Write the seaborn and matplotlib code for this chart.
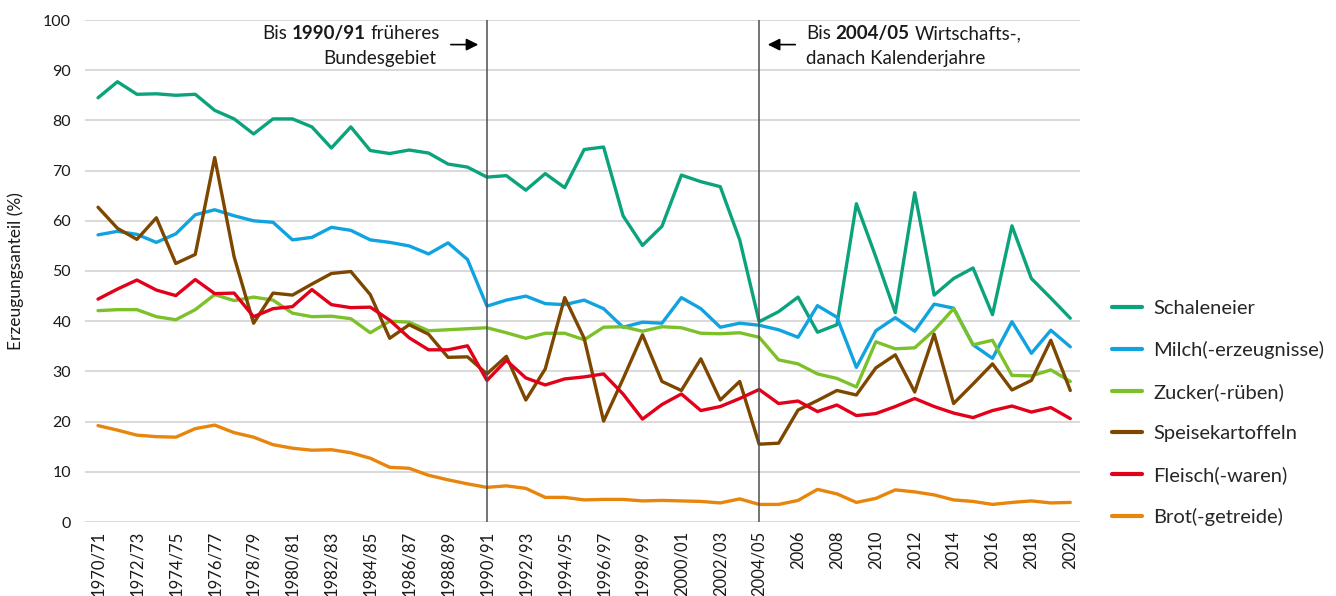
import numpy as np
import pandas as pd
import matplotlib
matplotlib.use('Agg')
import matplotlib.pyplot as plt
import seaborn as sns

# Perioden: Wirtschaftsjahre bis 2004/05, danach Kalenderjahre
periods = [f'{y}/{str(y + 1)[2:]}' for y in range(1970, 2005)] + [str(y) for y in range(2005, 2021)]

schaleneier = [84.5, 87.7, 85.2, 85.3, 85.0, 85.2, 82.0, 80.3, 77.3, 80.3,
               80.3, 78.7, 74.5, 78.7, 74.0, 73.4, 74.1, 73.5, 71.3, 70.7,
               68.7, 69.0, 66.1, 69.4, 66.6, 74.2, 74.7, 61.0, 55.1, 58.9,
               69.1, 67.8, 66.8, 56.2, 39.9, 41.9, 44.8, 37.8, 39.3, 63.4,
               52.8, 41.7, 65.6, 45.2, 48.5, 50.6, 41.3, 59.0, 48.5, 44.6, 40.6]
milch = [57.2, 57.9, 57.3, 55.7, 57.4, 61.2, 62.2, 61.0, 60.0, 59.7,
         56.2, 56.7, 58.7, 58.1, 56.2, 55.7, 55.0, 53.4, 55.6, 52.3,
         43.0, 44.2, 45.0, 43.5, 43.3, 44.2, 42.5, 38.8, 39.8, 39.6,
         44.7, 42.5, 38.8, 39.6, 39.2, 38.3, 36.8, 43.1, 40.8, 30.8,
         38.1, 40.7, 38.0, 43.4, 42.6, 35.3, 32.6, 39.9, 33.6, 38.2, 34.9]
zucker = [42.1, 42.3, 42.3, 40.9, 40.3, 42.3, 45.3, 44.1, 44.8, 44.2,
          41.6, 40.9, 41.0, 40.5, 37.7, 40.0, 39.8, 38.1, 38.3, 38.5,
          38.7, 37.7, 36.6, 37.6, 37.6, 36.3, 38.8, 38.9, 38.0, 38.9,
          38.7, 37.6, 37.5, 37.7, 36.8, 32.3, 31.5, 29.5, 28.6, 26.9,
          35.9, 34.5, 34.7, 38.2, 42.5, 35.3, 36.2, 29.2, 29.1, 30.3, 28.0]
kartoffeln = [62.7, 58.5, 56.3, 60.6, 51.5, 53.3, 72.6, 52.8, 39.6, 45.6,
              45.2, 47.4, 49.5, 49.9, 45.3, 36.6, 39.3, 37.4, 32.8, 32.9,
              29.5, 33.0, 24.3, 30.5, 44.7, 36.6, 20.1, 28.5, 37.3, 28.0,
              26.2, 32.5, 24.3, 28.0, 15.5, 15.7, 22.3, 24.2, 26.2, 25.3,
              30.7, 33.3, 25.9, 37.4, 23.6, 27.5, 31.5, 26.3, 28.2, 36.2, 26.2]
fleisch = [44.4, 46.4, 48.2, 46.2, 45.1, 48.3, 45.5, 45.6, 40.9, 42.5,
           42.9, 46.3, 43.3, 42.7, 42.8, 40.2, 36.7, 34.3, 34.3, 35.1,
           28.2, 32.2, 28.7, 27.3, 28.5, 28.9, 29.5, 25.5, 20.5, 23.4,
           25.5, 22.2, 23.0, 24.6, 26.4, 23.6, 24.1, 22.0, 23.3, 21.2,
           21.6, 23.0, 24.6, 23.0, 21.7, 20.8, 22.2, 23.1, 21.9, 22.8, 20.6]
brot = [19.2, 18.3, 17.3, 17.0, 16.9, 18.6, 19.3, 17.8, 16.9, 15.4,
        14.7, 14.3, 14.4, 13.8, 12.7, 10.9, 10.7, 9.3, 8.4, 7.6,
        6.9, 7.2, 6.7, 4.9, 4.9, 4.4, 4.5, 4.5, 4.2, 4.3,
        4.2, 4.1, 3.8, 4.6, 3.5, 3.5, 4.3, 6.5, 5.6, 3.9,
        4.7, 6.4, 6.0, 5.4, 4.4, 4.1, 3.5, 3.9, 4.2, 3.8, 3.9]

series = {
    'Schaleneier': schaleneier,
    'Milch(-erzeugnisse)': milch,
    'Zucker(-rüben)': zucker,
    'Speisekartoffeln': kartoffeln,
    'Fleisch(-waren)': fleisch,
    'Brot(-getreide)': brot,
}
colors = {
    'Schaleneier': '#0ba37c',
    'Milch(-erzeugnisse)': '#10a3e0',
    'Zucker(-rüben)': '#7cc12a',
    'Speisekartoffeln': '#7d4700',
    'Fleisch(-waren)': '#e2001a',
    'Brot(-getreide)': '#e8850c',
}

rows = []
for name, vals in series.items():
    for i, v in enumerate(vals):
        rows.append({'idx': i, 'periode': periods[i], 'produkt': name, 'wert': v})
df = pd.DataFrame(rows)

sns.set_theme(style='white')
plt.rcParams['font.family'] = ['Lato', 'DejaVu Sans']

fig = plt.figure(figsize=(13.36, 5.96), dpi=100)
ax = fig.add_axes([85 / 1336, 1 - 522 / 596, (1080 - 85) / 1336, (522 - 20) / 596])

sns.lineplot(data=df, x='idx', y='wert', hue='produkt', palette=colors,
             linewidth=2.4, ax=ax, legend=True, zorder=3)

ax.set_xlim(-0.67, 50.5)
ax.set_ylim(0, 100)
ax.set_yticks(range(0, 101, 10))
ax.yaxis.grid(True, color='#d9d9d9', linewidth=1.4, zorder=0)
ax.xaxis.grid(False)
for s in ax.spines.values():
    s.set_visible(False)

tick_idx = list(range(0, len(periods), 2))
ax.set_xticks(tick_idx)
ax.set_xticklabels([periods[i] for i in tick_idx], rotation=90, fontsize=12, color='#1a1a1a')
ax.tick_params(axis='y', labelsize=11.5, colors='#1a1a1a', length=0, pad=10)
ax.tick_params(axis='x', length=0, pad=6)
ax.set_xlabel('')
ax.set_ylabel('Erzeugungsanteil (%)', fontsize=12.5, color='#1a1a1a', labelpad=14)

# Trennlinien
for i in (20, 34):
    ax.axvline(i, ymin=0, ymax=1, color='#4a4f55', linewidth=1.1, zorder=4)

fs = 13.5
tc = '#1a1a1a'
# links, rechtsbündig
t1c = ax.text(17.6, 95.6, 'früheres', ha='right', va='bottom', fontsize=fs, color=tc)
t1b = ax.annotate('1990/91', xy=(0, 0), xycoords=t1c, xytext=(-3.5, 0), textcoords='offset points',
                  ha='right', va='bottom', fontsize=fs, color=tc, weight='bold')
ax.annotate('Bis', xy=(0, 0), xycoords=t1b, xytext=(-3.5, 0), textcoords='offset points',
            ha='right', va='bottom', fontsize=fs, color=tc)
ax.text(17.4, 90.6, 'Bundesgebiet', ha='right', va='bottom', fontsize=fs, color=tc)
# rechts, linksbündig
t2a = ax.text(36.4, 95.6, 'Bis', ha='left', va='bottom', fontsize=fs, color=tc)
t2b = ax.annotate('2004/05', xy=(1, 0), xycoords=t2a, xytext=(3.5, 0), textcoords='offset points',
                  ha='left', va='bottom', fontsize=fs, color=tc, weight='bold')
ax.annotate('Wirtschafts-,', xy=(1, 0), xycoords=t2b, xytext=(3.5, 0), textcoords='offset points',
            ha='left', va='bottom', fontsize=fs, color=tc)
ax.text(36.4, 90.6, 'danach Kalenderjahre', ha='left', va='bottom', fontsize=fs, color=tc)

ax.annotate('', xy=(19.7, 95.1), xytext=(18.0, 95.1),
            arrowprops=dict(arrowstyle='-|>', color='black', lw=1.2, mutation_scale=18))
ax.annotate('', xy=(34.3, 95.1), xytext=(36.0, 95.1),
            arrowprops=dict(arrowstyle='-|>', color='black', lw=1.2, mutation_scale=18))

handles, labels = ax.get_legend_handles_labels()
for h in handles:
    h.set_linewidth(3)
ax.legend(handles, labels, loc='upper left', bbox_to_anchor=(1094 / 1336, 1 - 282 / 596),
          bbox_transform=fig.transFigure, frameon=False, fontsize=14.5,
          handlelength=1.5, handletextpad=0.55, labelspacing=1.19)

fig.savefig('out.png', dpi=100)
